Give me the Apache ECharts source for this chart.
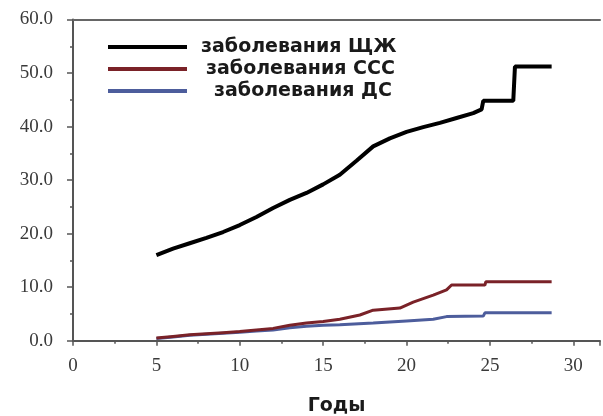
<!DOCTYPE html>
<html>
<head>
<meta charset="utf-8">
<script src="https://cdn.jsdelivr.net/npm/echarts@6/dist/echarts.min.js"></script>
<style>
  html, body { margin: 0; padding: 0; background: #fff; }
  #chart { width: 603px; height: 416px; }
</style>
</head>
<body>
<div id="chart"></div>
<script>
// Cumulative incidence by age (years)
const seriesNames = ['заболевания ЩЖ', 'заболевания ССС', 'заболевания ДС'];
const xTicks = [0, 5, 10, 15, 20, 25, 30];
const yTicks = [0, 10, 20, 30, 40, 50, 60];

const thyroid = [
  [5.0, 16.0], [6.0, 17.2], [7.0, 18.2], [8.0, 19.2], [9.0, 20.3], [10.0, 21.6],
  [11.0, 23.1], [12.0, 24.8], [13.0, 26.3], [14.0, 27.6], [15.0, 29.2], [16.0, 31.0],
  [17.0, 33.6], [18.0, 36.3], [19.0, 37.8], [20.0, 39.0], [21.0, 39.9], [22.0, 40.7],
  [23.0, 41.6], [24.0, 42.5], [24.5, 43.2], [24.6, 44.8], [26.4, 44.8], [26.5, 51.2],
  [28.7, 51.2]
];
const cardio = [
  [5.0, 0.5], [6.0, 0.8], [7.0, 1.1], [8.0, 1.3], [9.0, 1.5], [10.0, 1.7],
  [11.0, 2.0], [12.0, 2.3], [13.0, 2.9], [14.0, 3.3], [15.0, 3.6], [16.0, 4.0],
  [17.2, 4.8], [18.0, 5.7], [19.6, 6.1], [20.4, 7.2], [21.6, 8.5], [22.4, 9.5],
  [22.7, 10.4], [24.7, 10.4], [24.75, 11.0], [28.7, 11.0]
];
const respiratory = [
  [5.0, 0.4], [6.0, 0.7], [7.0, 1.0], [8.0, 1.2], [9.0, 1.4], [10.0, 1.6],
  [11.0, 1.8], [12.0, 2.0], [13.0, 2.4], [14.0, 2.7], [15.0, 2.9], [16.0, 3.0],
  [18.0, 3.3], [20.0, 3.7], [21.6, 4.0], [22.4, 4.5], [24.6, 4.6], [24.7, 5.2],
  [28.7, 5.2]
];

const colors = ['#000000', '#7a2228', '#4d5d9c'];

const chart = echarts.init(document.getElementById('chart'), null, { renderer: 'canvas' });

const axisGrey = '#555555';
const labelFont = { fontFamily: 'Liberation Serif', fontSize: 19, color: '#3a3a3a' };

chart.setOption({
  animation: false,
  backgroundColor: '#ffffff',
  grid: { left: 73, top: 19.5, right: 3, bottom: 75.3, outerBoundsMode: 'none' },
  legend: {
    orient: 'vertical',
    left: 103,
    top: 31,
    icon: 'rect',
    itemWidth: 79,
    itemHeight: 4,
    itemGap: 0,
    textStyle: {
      fontFamily: 'DejaVu Sans', fontWeight: 'bold', fontSize: 19,
      color: '#1a1a1a', lineHeight: 22
    },
    data: [
      { name: seriesNames[0], textStyle: { padding: [0, 0, 0, 9] } },
      { name: seriesNames[1], textStyle: { padding: [0, 0, 0, 14] } },
      { name: seriesNames[2], textStyle: { padding: [0, 0, 0, 22] } }
    ]
  },
  xAxis: [{
    type: 'value',
    min: 0,
    max: 31.6,
    interval: 5,
    name: 'Годы',
    nameLocation: 'middle',
    nameGap: 56,
    nameTextStyle: { fontFamily: 'DejaVu Sans', fontWeight: 'bold', fontSize: 19, color: '#1a1a1a' },
    axisLine: { lineStyle: { color: axisGrey, width: 2 } },
    axisTick: { length: 5, lineStyle: { color: axisGrey, width: 1.5 } },
    minorTick: { show: true, splitNumber: 2, length: 3, lineStyle: { color: axisGrey, width: 1.5 } },
    axisLabel: {
      ...labelFont, margin: 16, showMaxLabel: false,
      formatter: v => (xTicks.includes(v) ? String(v) : '')
    },
    splitLine: { show: false }
  }, {
    type: 'value',
    position: 'top',
    min: 0,
    max: 31.6,
    axisLine: { show: true, onZero: false, lineStyle: { color: '#666666', width: 2 } },
    axisTick: { show: false },
    axisLabel: { show: false },
    splitLine: { show: false }
  }],
  yAxis: {
    type: 'value',
    min: 0,
    max: 60,
    interval: 10,
    axisLine: { show: true, lineStyle: { color: axisGrey, width: 2 } },
    axisTick: { show: true, length: 6, lineStyle: { color: axisGrey, width: 1.5 } },
    minorTick: { show: true, splitNumber: 2, length: 3, lineStyle: { color: axisGrey, width: 1.5 } },
    axisLabel: {
      ...labelFont, margin: 20,
      formatter: v => (yTicks.includes(v) ? v.toFixed(1) : '')
    },
    splitLine: { show: false }
  },
  series: [
    {
      name: seriesNames[0], type: 'line', data: thyroid, showSymbol: false,
      color: colors[0], lineStyle: { width: 4, color: colors[0] }, z: 4
    },
    {
      name: seriesNames[2], type: 'line', data: respiratory, showSymbol: false,
      color: colors[2], lineStyle: { width: 3, color: colors[2] }, z: 2
    },
    {
      name: seriesNames[1], type: 'line', data: cardio, showSymbol: false,
      color: colors[1], lineStyle: { width: 3, color: colors[1] }, z: 3
    }
  ]
});
</script>
</body>
</html>
